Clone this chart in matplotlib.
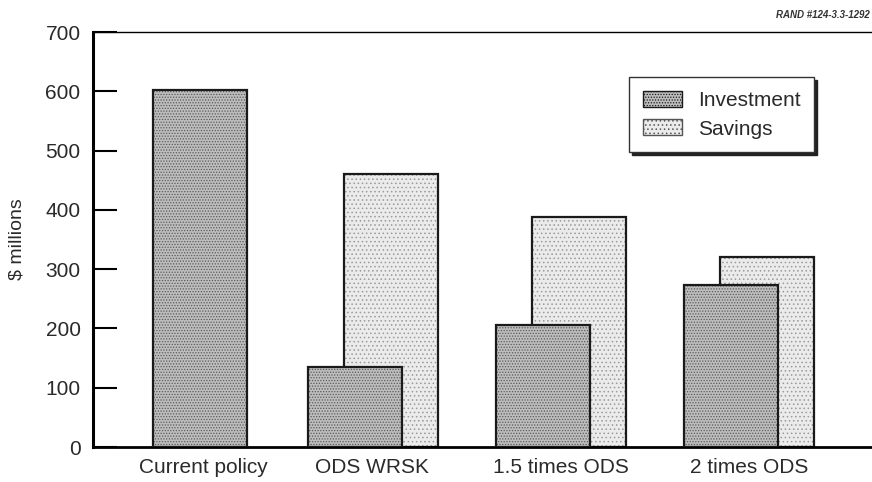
#!/usr/bin/env python3

import matplotlib.pyplot as plt
from matplotlib.patches import Patch


CATEGORIES = ["Current policy", "ODS WRSK", "1.5 times ODS", "2 times ODS"]
INVESTMENT = [603, 135, 205, 274]
SAVINGS = [None, 460, 388, 320]
Y_TICKS = [0, 100, 200, 300, 400, 500, 600, 700]

# layout (x units: one unit ~ 180 px)
INV_POS = [0.0, 0.86, 1.905, 2.95]
SAV_OFFSET = 0.2
BAR_WIDTH = 0.52
LABEL_POS = [0.02, 0.955, 2.005, 3.05]

INV_COLOR = "#bdbdbd"
INV_DOTS = "#5a5a5a"
SAV_COLOR = "#ebebeb"
SAV_DOTS = "#9a9a9a"
TEXT_COLOR = "#2a2a2a"

plt.rcParams["font.family"] = ["Liberation Sans", "DejaVu Sans"]
plt.rcParams["hatch.linewidth"] = 0.6


def draw_bars(ax, xs, heights, face, dots, hatch, z):
    # textured fill first, then a plain black outline on top
    ax.bar(xs, heights, width=BAR_WIDTH, color=face, edgecolor=dots,
           linewidth=0, hatch=hatch, zorder=z)
    ax.bar(xs, heights, width=BAR_WIDTH, fill=False, edgecolor="#1a1a1a",
           linewidth=1.6, zorder=z + 0.1)


def main():
    fig = plt.figure(figsize=(8.72, 4.82), dpi=100)
    ax = fig.add_axes([0.1067, 0.0726, 0.8933, 0.861])

    sav_x = [p + SAV_OFFSET for p, v in zip(INV_POS, SAVINGS) if v is not None]
    sav_h = [v for v in SAVINGS if v is not None]
    draw_bars(ax, sav_x, sav_h, SAV_COLOR, SAV_DOTS, "....", 2)
    draw_bars(ax, INV_POS, INVESTMENT, INV_COLOR, INV_DOTS, "......", 3)

    ax.set_xlim(-0.594, 3.733)
    ax.set_ylim(0, 700)
    ax.set_yticks(Y_TICKS)
    ax.set_xticks(LABEL_POS)
    ax.set_xticklabels(CATEGORIES, fontsize=15, color=TEXT_COLOR)
    ax.tick_params(axis="x", length=0, pad=8)
    ax.tick_params(axis="y", direction="in", length=17, width=1.5, pad=9,
                   labelsize=15, labelcolor=TEXT_COLOR)
    ax.set_ylabel("$ millions", fontsize=14, color=TEXT_COLOR, labelpad=14)

    ax.spines["right"].set_visible(False)
    ax.spines["left"].set_linewidth(2.2)
    ax.spines["bottom"].set_linewidth(2.0)
    ax.spines["top"].set_linewidth(1.0)

    handles = [
        Patch(facecolor=INV_COLOR, edgecolor="#1a1a1a", hatch="......", label="Investment"),
        Patch(facecolor=SAV_COLOR, edgecolor="#555555", hatch="....", label="Savings"),
    ]
    leg = ax.legend(handles=handles, loc="upper left", bbox_to_anchor=(0.688, 0.891),
                    fancybox=False, shadow={"color": "#222222", "alpha": 1.0},
                    edgecolor="#333333", fontsize=15, framealpha=1,
                    handlelength=1.9, handleheight=0.8, borderpad=0.65,
                    labelspacing=0.45, handletextpad=0.75, borderaxespad=0)
    leg.get_frame().set_linewidth(1.0)
    for text in leg.get_texts():
        text.set_color(TEXT_COLOR)

    fig.text(0.997, 0.968, "RAND #124-3.3-1292", ha="right", va="center",
             fontsize=7, fontweight="bold", fontstyle="italic", color="#333333")

    fig.savefig("out.png", dpi=100)
    plt.close(fig)


if __name__ == "__main__":
    main()
